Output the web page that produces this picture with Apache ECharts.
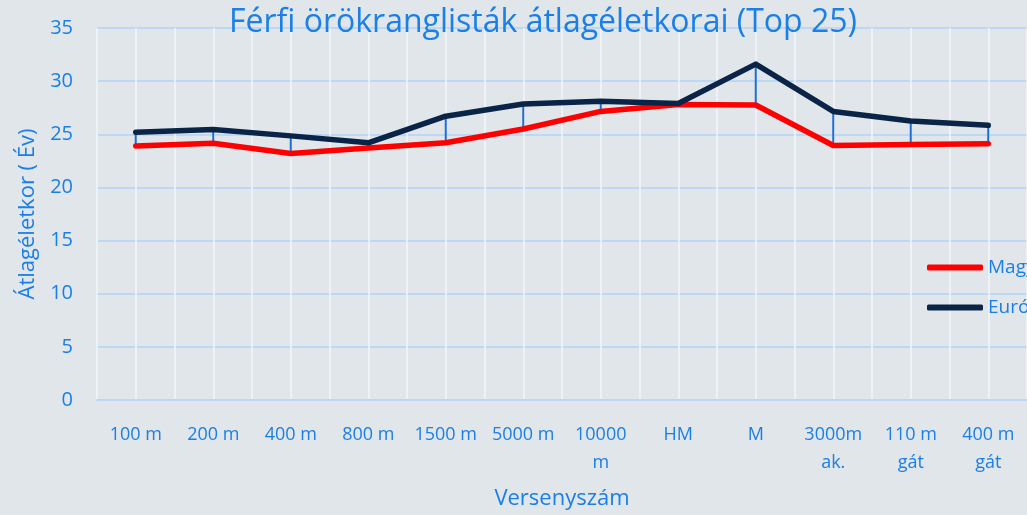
<!DOCTYPE html>
<html>
<head>
<meta charset="utf-8">
<script src="https://cdn.jsdelivr.net/npm/echarts@6/dist/echarts.min.js"></script>
<style>
  html, body { margin: 0; padding: 0; background: #e1e6ea; }
  #chart { width: 1027px; height: 515px; }
</style>
</head>
<body>
<div id="chart"></div>
<script>
// versenyszámok
const categories = ['100 m', '200 m', '400 m', '800 m', '1500 m', '5000 m', '10000\nm', 'HM', 'M', '3000m\nak.', '110 m\ngát', '400 m\ngát']
// átlagéletkorok (év)
const magyar = [23.9, 24.15, 23.2, 23.7, 24.2, 25.5, 27.15, 27.8, 27.75, 23.95, 24.05, 24.1]
const europa = [25.2, 25.45, 24.85, 24.2, 26.7, 27.85, 28.1, 27.9, 31.6, 27.15, 26.25, 25.85]
const yTicks = { min: 0, max: 35, interval: 5 }

const blue = '#1a7fe6'
const font = 'Open Sans'

// high-low vonalak
const hiLo = categories.map((c, i) => [i, Math.min(magyar[i], europa[i]), Math.max(magyar[i], europa[i])])

const chart = echarts.init(document.getElementById('chart'))
chart.setOption({
  backgroundColor: '#e1e6ea',
  textStyle: { fontFamily: font },
  title: {
    text: 'Férfi örökranglisták átlagéletkorai (Top 25)',
    left: 538,
    textAlign: 'center',
    top: 2,
    textStyle: { color: blue, fontSize: 32, fontWeight: 'normal', fontFamily: font }
  },
  legend: {
    orient: 'vertical',
    left: 922,
    top: 253,
    itemGap: 21,
    itemWidth: 56,
    itemHeight: 6,
    icon: 'roundRect',
    textStyle: { color: blue, fontSize: 19, fontFamily: font },
    data: ['Magyarország', 'Európa']
  },
  grid: { left: 97, right: -2, top: 28, bottom: 113, containLabel: false },
  xAxis: [
    {
      type: 'category',
      data: categories,
      boundaryGap: true,
      name: 'Versenyszám',
      nameLocation: 'middle',
      nameGap: 88,
      nameTextStyle: { color: blue, fontSize: 22 },
      axisLine: { lineStyle: { color: '#bcd8f4', width: 2 } },
      axisTick: { show: false },
      axisLabel: { color: blue, fontSize: 18, margin: 21, lineHeight: 28, interval: 0 },
      splitLine: { show: false }
    },
    {
      type: 'value',
      min: 0,
      max: 24,
      interval: 1,
      show: true,
      axisLine: { show: false },
      axisTick: { show: false },
      axisLabel: { show: false },
      splitLine: { show: true, lineStyle: { color: '#f2f6fa', width: 1.5 } }
    }
  ],
  yAxis: {
    type: 'value',
    min: yTicks.min,
    max: yTicks.max,
    interval: yTicks.interval,
    name: 'Átlagéletkor ( Év)',
    nameLocation: 'middle',
    nameGap: 53,
    nameTextStyle: { color: blue, fontSize: 22 },
    axisLine: { show: false },
    axisTick: { show: false },
    axisLabel: { color: blue, fontSize: 20, margin: 24 },
    splitLine: { lineStyle: { color: '#bcd8f4', width: 2 } }
  },
  series: [
    {
      type: 'custom',
      xAxisIndex: 0,
      z: 1,
      silent: true,
      encode: { x: 0, y: [1, 2] },
      data: hiLo,
      renderItem(params, api) {
        const lo = api.coord([api.value(0), api.value(1)])
        const hi = api.coord([api.value(0), api.value(2)])
        return {
          type: 'line',
          shape: { x1: lo[0], y1: lo[1], x2: hi[0], y2: hi[1] },
          style: { stroke: '#1a6fd6', lineWidth: 2 }
        }
      }
    },
    {
      name: 'Magyarország',
      type: 'line',
      xAxisIndex: 0,
      z: 3,
      data: magyar,
      symbol: 'none',
      color: '#ff0000',
      lineStyle: { width: 5.5, color: '#ff0000', cap: 'round', join: 'round' }
    },
    {
      name: 'Európa',
      type: 'line',
      xAxisIndex: 0,
      z: 4,
      data: europa,
      symbol: 'none',
      color: '#0a2447',
      lineStyle: { width: 5.5, color: '#0a2447', cap: 'round', join: 'round' }
    }
  ]
})
</script>
</body>
</html>
